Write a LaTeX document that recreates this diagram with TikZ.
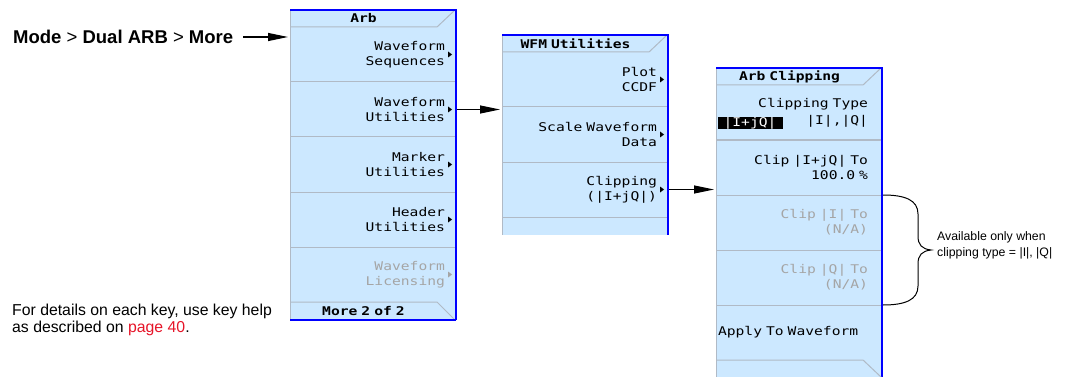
\documentclass[tikz,border=0pt]{standalone}
\usepackage{fontspec}
\setmainfont{Liberation Sans}
\newfontfamily\keyfont[FakeStretch=1.22]{DejaVu Sans Mono}
\usepackage{tikz}
\usetikzlibrary{positioning, arrows.meta}
\definecolor{keyblue}{RGB}{204,232,255}
\definecolor{sepgray}{RGB}{176,186,198}
\definecolor{dimgray}{RGB}{165,165,165}
\definecolor{edgeblue}{RGB}{0,0,255}
\definecolor{linkred}{RGB}{230,20,40}
\newcommand{\titletext}[1]{\makebox[147pt][c]{#1}}
\newcommand{\keytype}{\fontsize{12}{15}\keyfont\spaceskip=9pt\relax}

\begin{document}
\begin{tikzpicture}[
    x=1pt, y=-1pt, % one unit = one pixel of the screen shot
    ttl/.style={fill=keyblue, inner xsep=0pt, inner ysep=0pt, outer sep=0pt, text width=165pt, minimum height=17pt, align=left, font=\keytype\bfseries},
    key/.style={fill=keyblue, inner xsep=10pt, inner ysep=0pt, outer sep=0pt, text width=145pt, minimum height=55pt, align=right, font=\keytype},
    softkey/.style={key, inner xsep=13pt, text width=139pt},
    more/.style={path picture={\fill[#1] ([xshift=-7pt,yshift=3pt]path picture bounding box.east) -- ++(4pt,-3pt) -- ++(-4pt,-3pt) -- cycle;}},
    more/.default=black,
    greyed/.style={text=dimgray},
    sepline/.style={sepgray, line width=1pt},
    blueedge/.style={edgeblue, line width=2pt},
    arrow/.style={-{Triangle[length=20pt,width=8pt]}, line width=1.1pt},
    note/.style={inner sep=0pt, align=left}
]
\useasboundingbox (0,0) rectangle (1089,377);

% Arb menu
\node[ttl, anchor=north west] (arbt) at (290,10) {\titletext{Arb}};
\node[key, more, below=0pt of arbt] (arb1) {Waveform\\Sequences};
\node[key, more, below=0pt of arb1] (arb2) {Waveform\\Utilities};
\node[key, more, below=0pt of arb2] (arb3) {Marker\\Utilities};
\node[key, more, below=0pt of arb3] (arb4) {Header\\Utilities};
\node[key, greyed, more=dimgray, below=0pt of arb4] (arb5) {Waveform\\Licensing};
\node[ttl, minimum height=18pt, below=0pt of arb5] (arbf) {\titletext{More 2 of 2}};

% WFM Utilities menu
\node[ttl, anchor=north west] (wfmt) at (502,35) {\titletext{WFM Utilities}};
\node[key, more, below=0pt of wfmt] (wfm1) {Plot\\CCDF};
\node[key, more, below=0pt of wfm1] (wfm2) {Scale Waveform\\Data};
\node[key, more, below=0pt of wfm2] (wfm3) {Clipping\\(|I+jQ|)};
\node[key, minimum height=18pt, below=0pt of wfm3] (wfm4) {};

% Arb Clipping menu
\node[ttl, anchor=north west] (clipt) at (716,68) {\titletext{Arb Clipping}};
\node[softkey, below=0pt of clipt] (clip1) {Clipping Type\\[2pt]|I|,|Q|};
\node[softkey, below=0pt of clip1] (clip2) {Clip |I+jQ| To\\100.0 \%};
\node[softkey, greyed, below=0pt of clip2] (clip3) {Clip |I| To\\(N/A)};
\node[softkey, greyed, below=0pt of clip3] (clip4) {Clip |Q| To\\(N/A)};
\node[softkey, align=left, below=0pt of clip4] (clip5) {\hspace*{-11pt}Apply To Waveform};
\node[ttl, below=0pt of clip5] (clipf) {};
\node[fill=black, text=white, inner sep=0pt, minimum width=65pt, minimum height=12pt, font=\keytype] (hl) at ([xshift=34pt,yshift=-10.5pt]clip1.west) {|I+jQ|};

% separators and frames
\foreach \k in {arb2,arb3,arb4,arb5,wfm2,wfm3,wfm4,clip2,clip3,clip4,clip5}
    \draw[sepline] (\k.north west) -- (\k.north east);
\foreach \t/\f in {arbt/arbf,wfmt/wfm4,clipt/clipf}{
    \draw[sepline] (\t.south west) -- ([xshift=-18pt]\t.south east) -- (\t.north east);
    \draw[sepline] (\t.north west) -- (\f.south west);
    \draw[blueedge] (\t.north west) -- ([xshift=1pt]\t.north east) -- ([xshift=1pt]\f.south east);
}
\draw[sepline] (arbf.north west) -- ([xshift=-18pt]arbf.north east) -- (arbf.south east);
\draw[sepline] (clipf.north west) -- ([xshift=-18pt]clipf.north east) -- (clipf.south east);
\draw[blueedge] ([xshift=1pt]arbf.south east) -- (arbf.south west);

% notes
\node[note, anchor=west, font=\fontsize{18.5}{21}\selectfont] (mode) at (13,37) {\textbf{Mode} > \textbf{Dual ARB} > \textbf{More}};
\node[note, anchor=west, font=\fontsize{15.8}{17}\selectfont] (help) at (12,320) {For details on each key, use key help\\as described on \textcolor{linkred}{page 40}.};
\coordinate (tip) at (931,250);
\node[note, font=\fontsize{12.3}{16}\selectfont, right=6pt of tip, yshift=5pt] (avail) {Available only when\\clipping type = |I|, |Q|};

% arrows
\draw[arrow, shorten >=2pt] ([xshift=10pt]mode.east) -- (mode.east -| arb1.west);
\draw[arrow, shorten >=2pt] ([xshift=2pt]arb2.east) -- (arb2.east -| wfm1.west);
\draw[arrow, shorten >=2pt] ([xshift=2pt]wfm3.east) -- (wfm3.east -| clip2.west);

% brace
\draw[line width=1pt] ([xshift=2pt]clip3.north east) .. controls (905,195) and (918,200) .. (918,214) -- (918,236)
    .. controls (918,245) and (922,249) .. (tip) .. controls (922,251) and (918,255) .. (918,264) -- (918,286)
    .. controls (918,300) and (905,305) .. ([xshift=2pt]clip4.south east);
\end{tikzpicture}
\end{document}
